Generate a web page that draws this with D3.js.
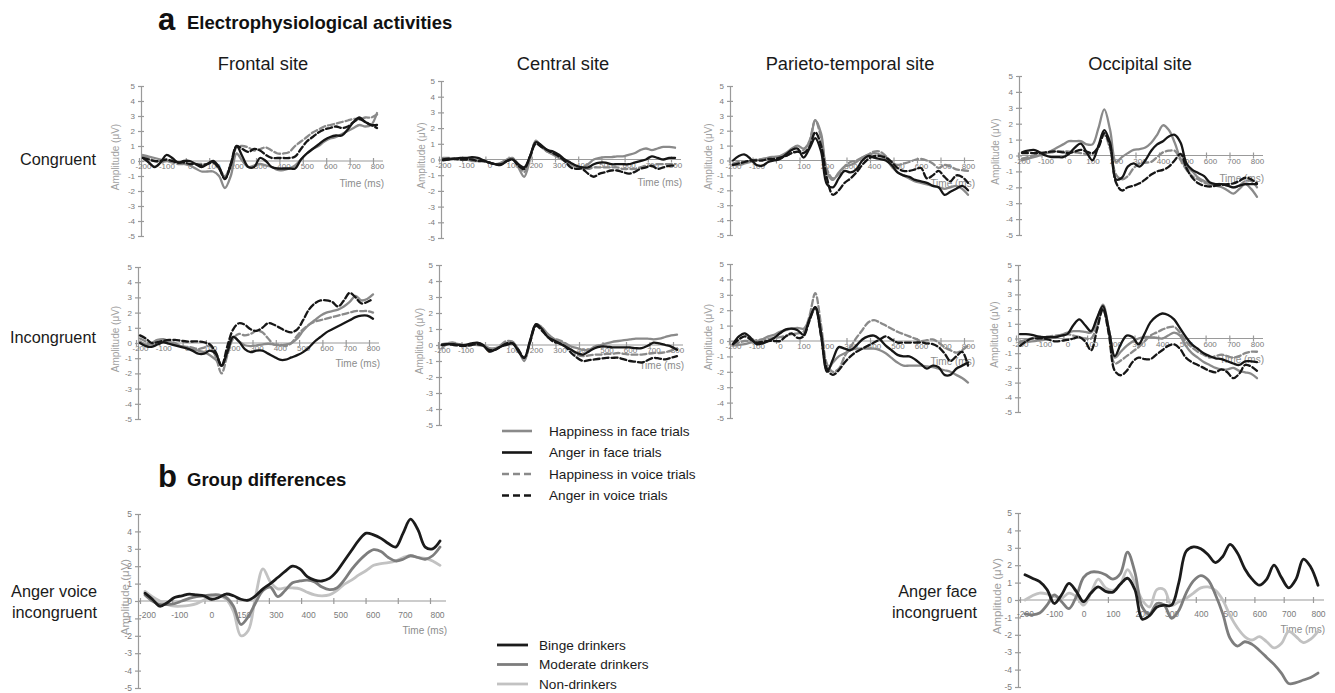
<!DOCTYPE html>
<html>
<head>
<meta charset="utf-8">
<script src="https://cdn.jsdelivr.net/npm/d3@7"></script>
<style>
body { margin: 0; background: #fff; }
svg { font-family: "Liberation Sans", Arial, sans-serif; }
.axis path, .axis line { stroke: #9a9a9a; stroke-width: 1.2; }
.axis text { fill: #7a7a7a; font-family: "Liberation Sans", Arial, sans-serif; }
.trace { fill: none; stroke-linejoin: round; stroke-linecap: round; }
</style>
</head>
<body>
<svg id="chart" width="1335" height="693"></svg>
<script>
// sample times (ms), every 25 ms
var times = [-200, -175, -150, -125, -100, -75, -50, -25, 0, 25,
    50, 75, 100, 125, 150, 175, 200, 225, 250, 275,
    300, 325, 350, 375, 400, 425, 450, 475, 500, 525,
    550, 575, 600, 625, 650, 675, 700, 725, 750, 775,
    800];

var amplitudeTicks = [-5, -4, -3, -2, -1, 0, 1, 2, 3, 4, 5];
var timeTicks = [-200, -100, 0, 100, 200, 300, 400, 500, 600, 700, 800];
var groupTimeLabels = ["-200", "-100", "0", "150", "300", "400", "500", "600", "700", "800"];

var siteNames = ["Frontal site", "Central site", "Parieto-temporal site", "Occipital site"];
var conditionNames = ["Congruent", "Incongruent"];
var trialSeries = ["Happiness in face trials", "Anger in face trials", "Happiness in voice trials", "Anger in voice trials"];
var groupSeries = ["Binge drinkers", "Moderate drinkers", "Non-drinkers"];

// ---- congruent ----
var frontalCongHappyFace = [0.4, 0.3, 0.2, 0.1, 0.0, 0.0, -0.1, -0.2, -0.3, -0.5,
    -0.7, -0.7, -0.7, -1.0, -1.8, -1.0, 0.5, 0.0, -0.4, -0.3,
    -0.2, -0.3, -0.4, -0.6, -0.6, -0.5, -0.3, 0.1, 0.5, 0.8,
    1.0, 1.3, 1.5, 1.6, 1.8, 2.0, 2.2, 2.4, 2.3, 2.4,
    3.2];
var frontalCongAngerFace = [0.2, -0.1, -0.4, -0.1, 0.4, 0.2, -0.1, 0.0, 0.0, -0.2,
    -0.4, -0.2, 0.0, -0.4, -1.2, -0.3, 1.0, 0.3, -0.4, -0.4,
    0.2, 0.0, -0.4, -0.5, -0.5, -0.5, -0.5, 0.1, 0.5, 0.8,
    1.1, 1.4, 1.6, 1.7, 1.7, 2.1, 2.6, 2.9, 2.6, 2.4,
    2.4];
var frontalCongHappyVoice = [0.3, 0.2, 0.0, -0.1, 0.0, -0.1, -0.2, -0.2, -0.2, -0.2,
    -0.2, -0.2, -0.1, -0.5, -1.0, -0.2, 0.9, 1.0, 0.9, 0.7,
    0.8, 0.9, 0.7, 0.5, 0.5, 0.6, 1.0, 1.3, 1.6, 1.9,
    2.1, 2.3, 2.4, 2.5, 2.6, 2.7, 2.8, 2.8, 2.9, 2.9,
    3.1];
var frontalCongAngerVoice = [0.2, 0.1, 0.0, 0.0, 0.1, 0.0, -0.1, -0.1, -0.2, -0.2,
    -0.3, -0.2, -0.1, -0.5, -1.2, -0.2, 1.0, 0.8, 0.6, 0.8,
    0.7, 0.4, 0.2, 0.2, 0.2, 0.2, 0.3, 0.8, 1.3, 1.6,
    1.9, 2.1, 2.2, 2.3, 2.2, 2.3, 2.6, 2.8, 2.6, 2.4,
    2.2];

var centralCongHappyFace = [0.1, 0.1, 0.0, 0.0, 0.0, -0.1, -0.1, -0.1, -0.2, -0.3,
    -0.2, 0.0, 0.1, -0.5, -1.1, 0.0, 1.2, 0.8, 0.5, 0.3,
    0.1, -0.1, -0.3, -0.4, -0.5, -0.3, 0.0, 0.1, 0.15, 0.15,
    0.2, 0.2, 0.3, 0.4, 0.6, 0.7, 0.6, 0.7, 0.8, 0.8,
    0.75];
var centralCongAngerFace = [-0.05, 0.0, 0.05, 0.1, 0.1, 0.15, 0.1, -0.05, -0.2, -0.3,
    -0.35, -0.1, 0.0, -0.3, -0.5, 0.2, 1.1, 0.9, 0.6, 0.5,
    0.3, 0.0, -0.2, -0.4, -0.5, -0.5, -0.3, -0.2, -0.2, -0.3,
    -0.3, -0.3, -0.3, -0.2, -0.1, 0.0, 0.2, 0.1, 0.0, 0.1,
    0.1];
var centralCongHappyVoice = [0.0, 0.0, 0.05, 0.0, 0.0, 0.0, -0.05, -0.1, -0.2, -0.3,
    -0.3, -0.1, 0.05, -0.3, -0.8, 0.2, 1.1, 0.8, 0.5, 0.4,
    0.2, -0.1, -0.3, -0.5, -0.5, -0.6, -0.5, -0.5, -0.5, -0.5,
    -0.5, -0.6, -0.6, -0.6, -0.5, -0.4, -0.4, -0.3, -0.3, -0.3,
    -0.3];
var centralCongAngerVoice = [0.0, 0.05, 0.05, 0.0, 0.0, 0.0, -0.1, -0.1, -0.2, -0.3,
    -0.3, -0.1, 0.0, -0.4, -0.6, 0.2, 1.0, 0.8, 0.6, 0.4,
    0.2, -0.1, -0.5, -0.6, -0.6, -0.9, -1.1, -0.9, -0.8, -0.7,
    -0.7, -0.8, -0.9, -0.8, -0.6, -0.5, -0.4, -0.6, -0.5, -0.4,
    -0.4];

var parietalCongHappyFace = [-0.3, -0.3, -0.2, -0.1, 0.0, 0.1, 0.2, 0.25, 0.3, 0.5,
    0.8, 1.0, 0.8, 1.2, 2.7, 1.8, -0.8, -1.3, -0.8, -0.4,
    -0.3, -0.1, 0.2, 0.35, 0.5, 0.4, 0.1, -0.4, -0.8, -1.0,
    -1.2, -1.4, -1.5, -1.6, -1.7, -1.8, -1.9, -1.8, -1.7, -1.9,
    -2.3];
var parietalCongAngerFace = [0.0, 0.3, 0.4, 0.1, -0.3, -0.35, -0.1, 0.0, 0.1, 0.4,
    0.7, 0.8, 0.2, 0.8, 1.5, 0.6, -1.6, -1.8, -1.2, -0.7,
    -0.8, -0.6, 0.0, 0.3, 0.2, 0.1, 0.0, -0.3, -0.8, -1.0,
    -1.1, -1.3, -1.4, -1.5, -1.7, -1.8, -2.3, -2.1, -1.9, -1.7,
    -2.0];
var parietalCongHappyVoice = [-0.2, -0.1, -0.1, 0.0, 0.05, 0.1, 0.15, 0.2, 0.2, 0.3,
    0.5, 0.6, 0.7, 1.3, 2.7, 1.5, -0.6, -1.2, -0.9, -0.4,
    -0.1, 0.0, 0.2, 0.4, 0.6, 0.6, 0.3, -0.1, -0.3, -0.2,
    -0.1, 0.05, 0.1, 0.0, -0.2, -0.5, -0.3, -0.4, -0.6, -0.65,
    -0.7];
var parietalCongAngerVoice = [-0.3, -0.2, -0.1, 0.0, 0.0, 0.0, 0.1, 0.1, 0.2, 0.3,
    0.5, 0.6, 0.5, 0.9, 1.9, 1.0, -1.2, -2.3, -2.0, -1.5,
    -1.2, -0.8, -0.3, 0.1, 0.3, 0.3, 0.2, -0.1, -0.5, -0.7,
    -0.7, -0.6, -0.5, -1.2, -1.0, -0.7, -1.1, -1.4, -1.0, -1.1,
    -1.5];

var occipitalCongHappyFace = [-0.3, -0.2, -0.1, 0.0, 0.1, 0.3, 0.5, 0.7, 0.9, 0.9,
    0.9, 0.7, 0.7, 1.7, 2.9, 1.6, -0.4, -0.1, 0.15, 0.35,
    0.4, 0.5, 0.8, 1.3, 1.9, 1.6, 0.8, -0.2, -0.7, -1.0,
    -1.4, -1.6, -1.8, -1.9, -2.0, -2.2, -2.4, -2.1, -1.8, -2.1,
    -2.6];
var occipitalCongAngerFace = [0.2, 0.3, 0.35, 0.2, 0.0, -0.1, -0.1, -0.1, 0.1, 0.5,
    0.75, 0.2, -0.3, 0.6, 1.6, 0.8, -1.5, -1.4, -0.7, -0.5,
    -0.7, -0.3, 0.3, 0.7, 0.9, 1.2, 1.3, 0.8, -0.5, -0.9,
    -1.1, -1.3, -1.7, -1.8, -1.8, -1.9, -2.0, -1.9, -1.8, -1.8,
    -1.8];
var occipitalCongHappyVoice = [-0.2, -0.1, 0.0, 0.1, 0.15, 0.2, 0.25, 0.25, 0.25, 0.2,
    0.15, 0.1, 0.1, 0.6, 1.3, 0.4, -1.2, -1.5, -1.3, -0.8,
    -0.5, -0.45, -0.4, -0.1, 0.2, 0.3, 0.3, -0.3, -0.9, -1.3,
    -1.5, -1.7, -1.8, -1.8, -1.8, -1.9, -2.0, -1.9, -1.6, -1.6,
    -2.0];
var occipitalCongAngerVoice = [0.15, 0.15, 0.15, 0.15, 0.2, 0.25, 0.25, 0.2, 0.15, 0.25,
    0.35, 0.25, 0.15, 0.5, 1.4, 0.6, -1.7, -2.2, -2.0, -1.9,
    -1.75, -1.5, -1.2, -1.0, -0.9, -0.7, -0.3, 0.1, -0.8, -1.4,
    -1.75, -1.9, -1.95, -1.9, -1.85, -1.8, -1.75, -1.6, -1.4, -1.5,
    -1.75];

// ---- incongruent ----
var frontalIncHappyFace = [0.1, -0.1, 0.0, 0.2, 0.25, 0.1, -0.1, -0.2, -0.3, -0.4,
    -0.5, -0.6, -0.8, -1.1, -1.5, -0.6, 0.4, 0.1, -0.15, -0.2,
    -0.15, -0.1, -0.05, -0.1, -0.15, -0.1, 0.0, 0.3, 0.8, 1.2,
    1.5, 1.8, 2.0, 2.1, 2.2, 2.4, 2.7, 3.1, 2.8, 2.9,
    3.2];
var frontalIncAngerFace = [0.0, -0.2, -0.25, -0.1, 0.05, -0.05, -0.15, -0.25, -0.35, -0.5,
    -0.7, -0.7, -0.5, -0.7, -1.5, -0.6, 0.4, 0.1, -0.4, -0.6,
    -0.5, -0.5, -0.7, -0.9, -1.1, -1.1, -0.95, -0.8, -0.6, -0.3,
    0.1, 0.4, 0.7, 0.9, 1.1, 1.3, 1.5, 1.7, 1.8, 1.8,
    1.6];
var frontalIncHappyVoice = [0.3, 0.1, -0.1, 0.1, 0.2, 0.1, 0.0, -0.2, -0.25, -0.3,
    -0.4, -0.3, -0.2, -0.9, -2.0, -0.8, 0.3, 0.6, 0.5, 0.6,
    0.8, 0.7, 0.3, -0.1, -0.1, -0.2, 0.0, 0.5, 0.9, 1.2,
    1.4, 1.5, 1.6, 1.7, 1.8, 1.9, 2.0, 2.1, 2.1, 2.1,
    2.0];
var frontalIncAngerVoice = [0.5, 0.3, 0.0, 0.05, 0.15, 0.2, 0.2, 0.15, 0.1, 0.1,
    0.1, 0.05, -0.1, -0.6, -1.5, -0.2, 0.9, 1.3, 1.2, 0.9,
    0.8, 1.0, 1.3, 1.2, 1.0, 0.8, 0.7, 0.9, 1.5, 2.2,
    2.6, 2.8, 2.8, 2.7, 2.4, 2.8, 3.3, 3.0, 2.6, 2.7,
    2.9];

var centralIncHappyFace = [0.05, 0.1, 0.1, 0.05, 0.0, 0.05, 0.1, 0.0, -0.2, -0.2,
    -0.1, 0.1, 0.2, -0.3, -1.0, 0.2, 1.3, 1.1, 0.7, 0.4,
    0.2, 0.1, -0.1, -0.2, -0.3, -0.3, -0.1, 0.0, 0.1, 0.2,
    0.25, 0.3, 0.35, 0.4, 0.4, 0.4, 0.35, 0.4, 0.5, 0.6,
    0.65];
var centralIncAngerFace = [0.0, 0.05, 0.05, 0.0, 0.0, 0.1, 0.15, 0.0, -0.4, -0.3,
    -0.1, 0.0, 0.1, -0.4, -0.8, 0.3, 1.3, 1.0, 0.5, 0.3,
    0.1, -0.1, -0.3, -0.5, -0.6, -0.4, -0.2, -0.1, -0.1, -0.15,
    -0.15, -0.15, -0.15, -0.2, -0.2, -0.05, 0.15, 0.1, 0.0, -0.1,
    -0.3];
var centralIncHappyVoice = [-0.2, 0.1, 0.15, 0.0, -0.1, 0.0, 0.0, -0.05, -0.2, -0.25,
    0.0, 0.25, 0.2, -0.3, -0.9, 0.2, 1.3, 1.1, 0.6, 0.4,
    0.3, 0.1, -0.3, -0.6, -0.7, -0.65, -0.6, -0.6, -0.55, -0.55,
    -0.5, -0.55, -0.6, -0.6, -0.6, -0.55, -0.5, -0.5, -0.45, -0.35,
    -0.2];
var centralIncAngerVoice = [0.0, 0.05, 0.0, -0.05, -0.05, 0.0, 0.05, -0.05, -0.3, -0.3,
    -0.1, 0.1, 0.1, -0.3, -0.8, 0.2, 1.2, 0.9, 0.5, 0.2,
    0.1, -0.1, -0.5, -0.8, -1.0, -0.95, -0.9, -0.85, -0.8, -0.8,
    -0.8, -0.9, -1.0, -1.05, -1.1, -0.95, -0.8, -0.85, -0.9, -0.8,
    -0.7];

var parietalIncHappyFace = [-0.3, -0.25, -0.2, -0.1, -0.05, 0.1, 0.3, 0.4, 0.6, 0.7,
    0.8, 0.85, 0.8, 1.4, 2.1, 0.3, -1.9, -1.4, -1.0, -0.8,
    -0.6, -0.5, -0.5, -0.5, -0.5, -0.6, -0.8, -1.1, -1.4, -1.6,
    -1.6, -1.6, -1.6, -1.65, -1.7, -1.8, -1.9, -2.0, -2.2, -2.4,
    -2.7];
var parietalIncAngerFace = [-0.2, 0.3, 0.5, 0.2, -0.2, -0.15, 0.0, 0.2, 0.5, 0.75,
    0.8, 0.7, 0.4, 1.4, 2.2, 0.5, -2.0, -1.2, -0.4, -0.5,
    -0.6, -0.3, 0.1, 0.3, 0.35, 0.1, -0.3, -0.6, -0.9, -1.0,
    -1.0, -1.2, -1.5, -1.8, -1.6, -1.7, -2.2, -2.2, -1.8, -1.6,
    -1.4];
var parietalIncHappyVoice = [-0.2, -0.1, 0.0, 0.0, 0.05, 0.1, 0.15, 0.2, 0.25, 0.35,
    0.45, 0.5, 0.6, 1.6, 3.1, 1.0, -1.5, -2.0, -1.8, -1.0,
    -0.4, 0.2, 0.7, 1.2, 1.35, 1.2, 1.0, 0.8, 0.6, 0.45,
    0.3, 0.15, 0.0, 0.05, 0.1, -0.1, -0.4, -0.6, -0.75, -0.6,
    -0.3];
var parietalIncAngerVoice = [-0.2, 0.1, 0.3, 0.1, -0.1, -0.05, 0.0, 0.0, 0.0, 0.3,
    0.5, 0.2, 0.3, 1.3, 2.2, 0.3, -1.8, -2.2, -1.9, -1.4,
    -1.0, -0.7, -0.5, -0.3, -0.1, 0.1, 0.3, 0.1, -0.1, -0.1,
    -0.1, -0.1, -0.1, -0.15, -0.2, -0.4, -0.8, -1.3, -1.0, -0.7,
    -1.6];

var occipitalIncHappyFace = [-0.3, -0.25, -0.2, -0.15, -0.1, 0.0, 0.1, 0.25, 0.4, 0.5,
    0.5, 0.45, 0.4, 1.3, 2.3, 0.6, -1.3, -0.9, -0.5, -0.2,
    0.0, 0.1, 0.1, 0.05, 0.0, 0.2, 0.4, 0.2, -0.5, -1.0,
    -1.3, -1.6, -1.8, -2.0, -2.1, -2.1, -2.0, -2.2, -2.3, -2.4,
    -2.7];
var occipitalIncAngerFace = [0.3, 0.3, 0.25, 0.15, 0.1, 0.1, 0.1, 0.2, 0.3, 0.9,
    1.3, 0.9, 0.5, 1.4, 2.2, 0.6, -1.2, -0.4, 0.2, 0.1,
    -0.4, 0.3, 1.1, 1.5, 1.7, 1.6, 1.3, 0.7, 0.1, -0.4,
    -0.7, -1.0, -1.2, -1.35, -1.4, -1.55, -1.7, -1.8, -1.55, -1.55,
    -1.6];
var occipitalIncHappyVoice = [-0.2, -0.1, 0.0, 0.05, 0.1, 0.15, 0.2, 0.25, 0.3, 0.2,
    0.1, 0.0, 0.0, 0.9, 2.0, 0.3, -1.7, -1.5, -1.2, -0.9,
    -0.6, -0.2, 0.2, 0.4, 0.6, 0.75, 0.8, 0.4, -0.2, -0.6,
    -0.9, -1.1, -1.3, -1.2, -1.1, -1.2, -1.3, -1.2, -1.0, -0.9,
    -0.9];
var occipitalIncAngerVoice = [-0.5, -0.2, 0.0, 0.0, 0.0, -0.1, -0.2, -0.15, -0.1, 0.0,
    0.1, -0.2, -0.8, 0.6, 2.0, 0.3, -2.2, -2.5, -2.2, -1.6,
    -1.3, -1.4, -1.4, -1.1, -0.8, -0.5, -0.4, -0.7, -1.3, -1.6,
    -1.8, -2.0, -2.2, -2.3, -2.1, -2.3, -2.7, -2.4, -1.8, -1.9,
    -2.2];

// ---- group differences ----
var voiceBinge = [0.45, 0.1, -0.3, -0.1, 0.2, 0.3, 0.4, 0.35, 0.3, 0.1,
    0.2, 0.4, 0.3, 0.1, 0.05, 0.3, 0.7, 1.0, 1.35, 1.7,
    2.0, 1.85, 1.4, 1.2, 1.15, 1.3, 1.7, 2.3, 2.9, 3.5,
    3.9, 3.8, 3.6, 3.3, 3.1, 3.9, 4.7, 4.1, 3.1, 3.0,
    3.45];
var voiceModerate = [0.35, 0.0, -0.2, -0.2, -0.15, 0.0, 0.15, 0.25, 0.3, 0.35,
    0.35, 0.2, -0.3, -1.35, -0.9, -0.1, 0.6, 0.8, 0.25, 0.6,
    1.05, 1.15, 1.2, 1.1, 0.8, 0.65, 0.75, 1.2, 1.8, 2.3,
    2.7, 2.95, 2.85, 2.5, 2.3, 2.4, 2.6, 2.5, 2.4, 2.6,
    3.1];
var voiceNon = [0.55, 0.25, 0.0, -0.2, -0.3, -0.3, -0.25, -0.15, 0.05, 0.25,
    0.3, 0.1, -0.6, -2.0, -1.7, 0.3, 1.85, 1.1, 0.7, 0.75,
    0.75, 0.7, 0.5, 0.35, 0.3, 0.35, 0.6, 0.95, 1.2, 1.5,
    1.75, 2.05, 2.15, 2.2, 2.3, 2.5, 2.6, 2.5, 2.45, 2.3,
    2.05];

var faceBinge = [1.45, 1.25, 1.05, 0.6, -0.2, 0.3, 0.95, 0.5, -0.1, 0.4,
    0.75, 0.5, 0.45, 0.9, 1.25, 0.6, -1.1, -0.9, -0.4, -0.3,
    -0.3, 1.0, 2.8, 3.05, 2.95, 2.6, 2.15, 2.5, 3.2, 2.7,
    1.8, 1.2, 0.85, 1.2, 2.0, 1.3, 0.7, 1.2, 2.35, 1.9,
    0.85];
var faceModerate = [-0.8, -0.85, -0.75, -0.3, 0.3, -0.1, -0.5, 0.2, 1.3, 1.6,
    1.6, 1.45, 1.2, 1.5, 2.75, 1.6, -0.4, -0.8, -0.2, -0.3,
    -1.05, -0.6, 0.4, 1.1, 1.4, 1.15, 0.3, -0.8, -2.2, -2.65,
    -2.4, -2.55, -2.9, -3.3, -3.7, -4.2, -4.8, -4.75, -4.6, -4.45,
    -4.2];
var faceNon = [0.0, 0.25, 0.4, 0.35, 0.2, 0.1, 0.4, 0.2, -0.3, 0.4,
    1.2, 0.7, 0.55, 0.9, 1.75, 1.0, 0.0, -0.4, 0.6, 0.6,
    -0.3, -0.1, 0.1, 0.4, 0.7, 0.75, 0.55, 0.0, -0.9, -1.6,
    -2.1, -2.3, -2.1, -2.4, -2.75, -2.5, -1.8, -2.1, -2.45, -2.25,
    -1.8];

// styles (same order as trialSeries / groupSeries)
var trialColors = ["#8a8a8a", "#161616", "#8a8a8a", "#161616"];
var trialDashes = [null, null, "6,3", "6,3"];
var trialDrawOrder = [2, 0, 3, 1];
var groupColors = ["#1b1b1b", "#7d7d7d", "#c2c2c2"];
var groupDrawOrder = [2, 1, 0];

var svg = d3.select("#chart");

var erpPanels = [
    {series: [frontalCongHappyFace, frontalCongAngerFace, frontalCongHappyVoice, frontalCongAngerVoice],
        axisX: 141, yTop: 86, yBottom: 236, x0: 143, x1: 377, tickShift: 4, labelDy: 8, timeDy: 26, ampDx: 26},
    {series: [centralCongHappyFace, centralCongAngerFace, centralCongHappyVoice, centralCongAngerVoice],
        axisX: 441, yTop: 81, yBottom: 238, x0: 443, x1: 675, tickShift: 4, labelDy: 8, timeDy: 26, ampDx: 20},
    {series: [parietalCongHappyFace, parietalCongAngerFace, parietalCongHappyVoice, parietalCongAngerVoice],
        axisX: 730, yTop: 86, yBottom: 235, x0: 733, x1: 968, tickShift: 4, labelDy: 8, timeDy: 26, ampDx: 22},
    {series: [occipitalCongHappyFace, occipitalCongAngerFace, occipitalCongHappyVoice, occipitalCongAngerVoice],
        axisX: 1019, yTop: 76, yBottom: 235, x0: 1022, x1: 1257, tickShift: 4, labelDy: 8, timeDy: 26, ampDx: 24},
    {series: [frontalIncHappyFace, frontalIncAngerFace, frontalIncHappyVoice, frontalIncAngerVoice],
        axisX: 138, yTop: 267, yBottom: 419, x0: 140, x1: 373, tickShift: 4, labelDy: 8, timeDy: 24, ampDx: 23},
    {series: [centralIncHappyFace, centralIncAngerFace, centralIncHappyVoice, centralIncAngerVoice],
        axisX: 439, yTop: 265, yBottom: 425, x0: 442, x1: 677, tickShift: 4, labelDy: 8, timeDy: 24, ampDx: 20},
    {series: [parietalIncHappyFace, parietalIncAngerFace, parietalIncHappyVoice, parietalIncAngerVoice],
        axisX: 730, yTop: 264, yBottom: 418, x0: 733, x1: 968, tickShift: 4, labelDy: 8, timeDy: 24, ampDx: 22},
    {series: [occipitalIncHappyFace, occipitalIncAngerFace, occipitalIncHappyVoice, occipitalIncAngerVoice],
        axisX: 1018, yTop: 265, yBottom: 412, x0: 1020, x1: 1257, tickShift: 4, labelDy: 8, timeDy: 24, ampDx: 24}
];

var groupPanels = [
    {series: [voiceBinge, voiceModerate, voiceNon], labels: groupTimeLabels,
        axisX: 138, yTop: 514, yBottom: 688, x0: 145, x1: 440, tickShift: 7, labelDy: 17, timeDy: 33, ampDx: 13},
    {series: [faceBinge, faceModerate, faceNon],
        axisX: 1018, yTop: 513, yBottom: 687, x0: 1025, x1: 1318, tickShift: 5, labelDy: 17, timeDy: 33, ampDx: 21}
];

function drawPanel(p, colors, dashes, order, width, fontSize, ampSize) {
    var x = d3.scaleLinear().domain([-200, 800]).range([p.x0, p.x1]);
    var y = d3.scaleLinear().domain([-5, 5]).range([p.yBottom, p.yTop]);
    var g = svg.append("g");

    // y axis, crossing ticks
    var yAxisG = g.append("g")
        .attr("class", "axis")
        .attr("transform", "translate(" + p.axisX + ",0)")
        .call(d3.axisLeft(y)
            .tickValues(amplitudeTicks)
            .tickSizeOuter(0)
            .tickSizeInner(3)
            .tickPadding(3)
            .tickFormat(function(d) { return String(d); }));
    yAxisG.attr("font-size", fontSize).attr("font-family", null);
    yAxisG.selectAll(".tick line").attr("x1", 3).attr("x2", -3);

    // x axis through zero
    var xAxisG = g.append("g")
        .attr("class", "axis")
        .attr("transform", "translate(0," + y(0) + ")");
    if (p.labels) {
        var xPoint = d3.scalePoint().domain(p.labels).range([p.x0 + 2, p.x1 - 3]);
        xAxisG.call(d3.axisBottom(xPoint).tickSizeOuter(0));
    } else {
        xAxisG.call(d3.axisBottom(x).tickValues(timeTicks).tickSizeOuter(0).tickFormat(function(d) { return String(d); }));
    }
    xAxisG.attr("font-size", fontSize).attr("font-family", null);
    xAxisG.select(".domain").remove();
    xAxisG.append("line")
        .attr("x1", p.axisX)
        .attr("x2", p.x1 + 6)
        .attr("y1", 0)
        .attr("y2", 0);
    xAxisG.selectAll(".tick line")
        .attr("y1", -3)
        .attr("y2", 3)
        .attr("x1", -p.tickShift)
        .attr("x2", -p.tickShift);
    xAxisG.selectAll(".tick text").attr("y", p.labelDy).attr("dy", 0);

    g.append("text")
        .attr("x", p.x1 + 7)
        .attr("y", y(0) + p.timeDy)
        .attr("text-anchor", "end")
        .attr("font-size", 10)
        .attr("fill", "#8c8c8c")
        .text("Time (ms)");

    g.append("text")
        .attr("transform", "translate(" + (p.axisX - p.ampDx) + "," + (y(0) - 4) + ") rotate(-90)")
        .attr("text-anchor", "middle")
        .attr("dy", "0.35em")
        .attr("font-size", ampSize)
        .attr("fill", "#a0a0a0")
        .text("Amplitude (\u03bcV)");

    var line = d3.line()
        .x(function(d, i) { return x(times[i]); })
        .y(function(d) { return y(d); })
        .curve(d3.curveCatmullRom.alpha(0.5));

    g.selectAll(".trace")
        .data(order)
        .enter()
        .append("path")
        .attr("class", "trace")
        .attr("d", function(k) { return line(p.series[k]); })
        .attr("stroke", function(k) { return colors[k]; })
        .attr("stroke-width", width)
        .attr("stroke-dasharray", function(k) { return dashes ? dashes[k] : null; })
        .attr("stroke-linecap", function(k) { return dashes && dashes[k] ? "butt" : "round"; });
}

erpPanels.forEach(function(p) { drawPanel(p, trialColors, trialDashes, trialDrawOrder, 2.3, 8, 10); });
groupPanels.forEach(function(p) { drawPanel(p, groupColors, null, groupDrawOrder, 2.8, 8.5, 11.5); });

// headings
function heading(letter, title, y) {
    svg.append("text").attr("x", 158).attr("y", y).attr("font-size", 31).attr("font-weight", "bold").attr("fill", "#111").text(letter);
    svg.append("text").attr("x", 187).attr("y", y - 1).attr("font-size", 18.5).attr("font-weight", "bold").attr("fill", "#111").text(title);
}
heading("a", "Electrophysiological activities", 30);
heading("b", "Group differences", 487);

var siteCenters = [263, 563, 850, 1140];
svg.selectAll(".siteTitle")
    .data(siteNames)
    .enter()
    .append("text")
    .attr("class", "siteTitle")
    .attr("x", function(d, i) { return siteCenters[i]; })
    .attr("y", 70)
    .attr("text-anchor", "middle")
    .attr("font-size", 18.3)
    .attr("fill", "#1a1a1a")
    .text(function(d) { return d; });

var conditionBaselines = [165, 343];
svg.selectAll(".condTitle")
    .data(conditionNames)
    .enter()
    .append("text")
    .attr("class", "condTitle")
    .attr("x", 96)
    .attr("y", function(d, i) { return conditionBaselines[i]; })
    .attr("text-anchor", "end")
    .attr("font-size", 16.3)
    .attr("fill", "#1a1a1a")
    .text(function(d) { return d; });

[["Anger voice", "incongruent", 97], ["Anger face", "incongruent", 977]].forEach(function(lbl) {
    svg.append("text").attr("x", lbl[2]).attr("y", 597).attr("text-anchor", "end").attr("font-size", 16.3).attr("fill", "#1a1a1a").text(lbl[0]);
    svg.append("text").attr("x", lbl[2]).attr("y", 618).attr("text-anchor", "end").attr("font-size", 16.3).attr("fill", "#1a1a1a").text(lbl[1]);
});

// legends
var trialLegend = svg.selectAll(".trialLegend")
    .data(trialSeries)
    .enter()
    .append("g")
    .attr("class", "trialLegend")
    .attr("transform", function(d, i) { return "translate(502," + (431 + i * 21.5) + ")"; });
trialLegend.append("line")
    .attr("x1", 0).attr("x2", 30)
    .attr("stroke", function(d, i) { return trialColors[i]; })
    .attr("stroke-width", 2.6)
    .attr("stroke-dasharray", function(d, i) { return trialDashes[i] ? "7,4" : null; });
trialLegend.append("text")
    .attr("x", 47).attr("dy", "0.35em")
    .attr("font-size", 13.6).attr("fill", "#1a1a1a")
    .text(function(d) { return d; });

var groupLegend = svg.selectAll(".groupLegend")
    .data(groupSeries)
    .enter()
    .append("g")
    .attr("class", "groupLegend")
    .attr("transform", function(d, i) { return "translate(497," + (645 + i * 19.5) + ")"; });
groupLegend.append("line")
    .attr("x1", 0).attr("x2", 31)
    .attr("stroke", function(d, i) { return groupColors[i]; })
    .attr("stroke-width", 2.8);
groupLegend.append("text")
    .attr("x", 42).attr("dy", "0.35em")
    .attr("font-size", 13.6).attr("fill", "#1a1a1a")
    .text(function(d) { return d; });
</script>
</body>
</html>
